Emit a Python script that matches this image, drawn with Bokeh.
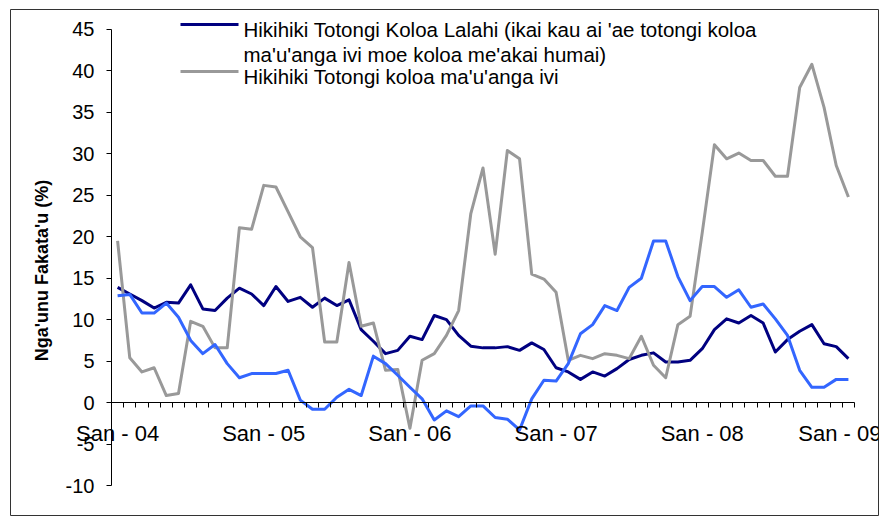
import numpy as np
from math import pi
from bokeh.plotting import figure
from bokeh.models import Range1d, FixedTicker, Label, BoxAnnotation
from bokeh.embed import file_html
from bokeh.resources import INLINE

# ---- data (monthly, Jan 2004 .. Jan 2009) ----
tick_labels = ["San - 04", "San - 05", "San - 06", "San - 07", "San - 08", "San - 09"]

navy_vals = [13.9, 13.1, 12.3, 11.4, 12.1, 12.0, 14.2, 11.3, 11.1, 12.6, 13.8, 13.1,
             11.7, 14.0, 12.2, 12.7, 11.5, 12.6, 11.7, 12.4, 8.8, 7.4, 5.9, 6.3,
             8.0, 7.6, 10.5, 10.0, 8.1, 6.8, 6.6, 6.6, 6.75, 6.3, 7.2, 6.4,
             4.2, 3.7, 2.8, 3.7, 3.2, 4.1, 5.2, 5.7, 6.0, 4.9, 4.9, 5.1,
             6.5, 8.8, 10.1, 9.6, 10.5, 9.6, 6.1, 7.6, 8.6, 9.4, 7.1, 6.75,
             5.3]

gray_vals = [19.5, 5.4, 3.7, 4.2, 0.85, 1.1, 9.8, 9.2, 6.6, 6.6, 21.1, 20.9,
             26.2, 26.0, 23.0, 20.0, 18.7, 7.3, 7.3, 16.9, 9.2, 9.6, 3.9, 4.0,
             -3.1, 5.1, 5.9, 8.1, 11.1, 22.8, 28.3, 17.9, 30.4, 29.4, 15.5, 14.9,
             13.3, 5.1, 5.7, 5.3, 5.9, 5.7, 5.3, 8.0, 4.5, 3.0, 9.4, 10.4,
             20.5, 31.1, 29.4, 30.1, 29.2, 29.2, 27.3, 27.3, 38.0, 40.8, 35.6, 28.6,
             24.8]

blue_vals = [12.9, 13.05, 10.8, 10.8, 12.0, 10.3, 7.5, 5.9, 7.0, 4.7, 3.0, 3.5,
             3.5, 3.5, 3.9, 0.3, -0.8, -0.8, 0.65, 1.6, 0.85, 5.6, 4.7, 3.3,
             1.85, 0.45, -2.1, -1.0, -1.7, -0.4, -0.4, -1.8, -2.0, -3.3, 0.45, 2.7,
             2.6, 4.7, 8.3, 9.4, 11.7, 11.1, 13.9, 15.0, 19.5, 19.5, 15.2, 12.3,
             14.0, 14.0, 12.7, 13.6, 11.5, 11.9, 10.1, 8.1, 3.9, 1.85, 1.85, 2.8,
             2.8]

legend_line1 = "Hikihiki Totongi Koloa Lalahi (ikai kau ai 'ae totongi koloa"
legend_line2 = "ma'u'anga ivi moe koloa me'akai humai)"
legend_gray = "Hikihiki Totongi koloa ma'u'anga ivi"
y_title = "Nga'unu Fakata'u (%)"

x = np.arange(len(navy_vals))
n = len(navy_vals)

W, H = 881, 516
p = figure(width=W, height=H, output_backend="svg", toolbar_location=None,
           x_range=Range1d(-8.792, 62.470), y_range=Range1d(-13.739, 47.412),
           min_border_left=10, min_border_top=9, min_border_right=3, min_border_bottom=0)
p.xgrid.visible = False
p.ygrid.visible = False
p.outline_line_color = "#333333"
p.outline_line_width = 1
p.background_fill_color = "white"
p.border_fill_color = "white"

FONT = "Liberation Sans"

# y axis
ya = p.yaxis[0]
ya.fixed_location = -0.5
ya.bounds = (-10, 45)
ya.ticker = FixedTicker(ticks=list(range(-10, 50, 5)), minor_ticks=[])
ya.major_label_overrides = {t: str(t) for t in range(-10, 50, 5)}
ya.major_tick_out = 5
ya.major_tick_in = 0
ya.minor_tick_out = 0
ya.minor_tick_in = 0
ya.major_label_text_font = FONT
ya.major_label_text_font_size = "20px"
ya.major_label_text_color = "black"
ya.major_label_standoff = 12
ya.axis_line_color = "black"
ya.major_tick_line_color = "black"

# x axis crossing at zero
xa = p.xaxis[0]
xa.fixed_location = 0
xa.bounds = (-0.5, n - 0.5)
major_pos = [i * 12 for i in range(len(tick_labels))]
xa.ticker = FixedTicker(ticks=major_pos, minor_ticks=[i - 0.5 for i in range(n + 1)])
xa.major_label_overrides = {pos: lab for pos, lab in zip(major_pos, tick_labels)}
xa.major_tick_out = 0
xa.major_tick_in = 0
xa.minor_tick_out = 5
xa.minor_tick_in = 0
xa.minor_tick_line_color = "black"
xa.major_label_text_font = FONT
xa.major_label_text_font_size = "22px"
xa.major_label_text_color = "black"
xa.major_label_standoff = 13
xa.axis_line_color = "black"

# series
p.line(x, navy_vals, line_color="#000080", line_width=3, line_join="round")
p.line(x, gray_vals, line_color="#999999", line_width=3, line_join="round")
p.line(x, blue_vals, line_color="#3366FF", line_width=3, line_join="round")

# legend (manual, screen units measured from bottom of canvas)
def sy(page_y):
    return H - page_y

def sx(page_x):
    return page_x

p.add_layout(BoxAnnotation(left=sx(170), right=sx(228), top=sy(22.5), bottom=sy(25.5),
                           left_units="screen", right_units="screen",
                           top_units="screen", bottom_units="screen",
                           fill_color="#000080", fill_alpha=1, line_color=None))
p.add_layout(BoxAnnotation(left=sx(170), right=sx(228), top=sy(69.5), bottom=sy(72.5),
                           left_units="screen", right_units="screen",
                           top_units="screen", bottom_units="screen",
                           fill_color="#999999", fill_alpha=1, line_color=None))
for txt, by in [(legend_line1, 28.5), (legend_line2, 54), (legend_gray, 76)]:
    p.add_layout(Label(x=sx(233), y=sy(by), x_units="screen", y_units="screen",
                       text=txt, text_font=FONT, text_font_size="20.5px",
                       text_color="black", text_baseline="alphabetic", text_align="left"))

p.add_layout(Label(x=sx(31), y=sy(270), x_units="screen", y_units="screen",
                   text=y_title, angle=pi / 2, text_font=FONT, text_font_size="18px",
                   text_font_style="bold", text_color="black",
                   text_align="center", text_baseline="middle"))

open("out.html", "w").write(file_html(p, INLINE))
